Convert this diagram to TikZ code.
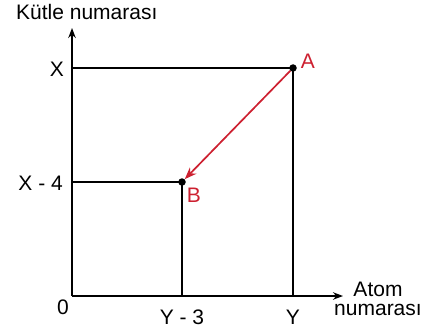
\documentclass[tikz,border=0pt]{standalone}
\usepackage{fontspec}
\setmainfont{Liberation Sans}
\usetikzlibrary{arrows.meta}
\definecolor{myred}{RGB}{205,32,48}
\begin{document}
\begin{tikzpicture}[x=1pt,y=-1pt,
  axis/.style={line width=1.6pt,-{Stealth[length=10pt,width=7.5pt]}},
  guide/.style={line width=1.6pt},
  dotnode/.style={circle,fill=black,inner sep=0pt,minimum size=7.5pt},
  lbl/.style={font=\fontsize{21}{24}\selectfont,inner sep=0pt},
  redlbl/.style={lbl,text=myred},
  redarrow/.style={line width=1.7pt,draw=myred,-{Stealth[length=12pt,width=9pt]}}]
\useasboundingbox (0,0) rectangle (437,329);
\coordinate (O) at (72,296);
\coordinate (ytip) at (72,28);
\coordinate (xtip) at (343,296);
\coordinate (Xy) at (72,68);
\coordinate (X4y) at (72,182);
\coordinate (Yx) at (293,296);
\coordinate (Y3x) at (182,296);
\node[dotnode] (A) at (293,68) {};
\node[dotnode] (B) at (182,182) {};
\draw[axis] (O) -- (ytip);
\draw[axis] (O) -- (xtip);
\draw[guide] (Xy) -- (A.center) -- (Yx);
\draw[guide] (X4y) -- (B.center) -- (Y3x);
\draw[redarrow] (A) -- (B);
\node[lbl,anchor=base west] (kt) at (16,20) {Kütle numarası};
\node[lbl,anchor=east] (lx) at (64,69) {X};
\node[lbl,anchor=east] (lx4) at (63,183) {X - 4};
\node[lbl] (l0) at (63,307) {0};
\node[lbl] (ly3) at (182,317) {Y - 3};
\node[lbl] (ly) at (293,317) {Y};
\node[lbl,anchor=base,align=center] (atom) at (378,315) {Atom\\[-5pt]numarası};
\node[redlbl] (la) at (308,61) {A};
\node[redlbl] (lb) at (194,195) {B};
\end{tikzpicture}
\end{document}
